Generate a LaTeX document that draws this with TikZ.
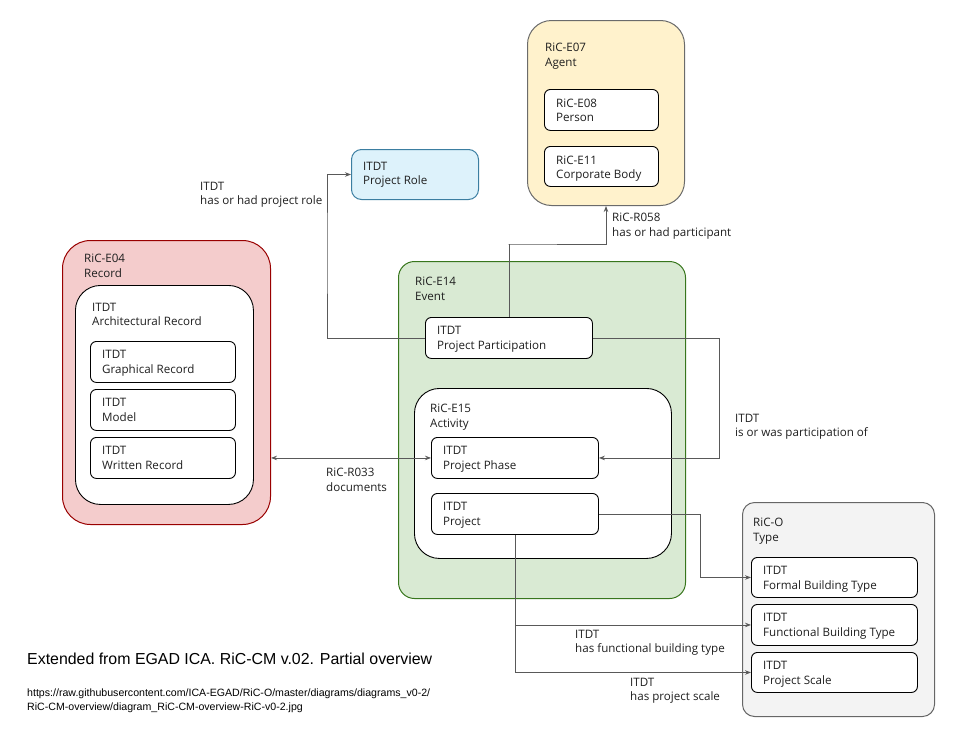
\documentclass[tikz,border=0pt]{standalone}
\usepackage{fontspec}
\setmainfont{Open Sans}
\newfontfamily\arialfont{Liberation Sans}
\usetikzlibrary{arrows.meta}

\definecolor{recfill}{HTML}{F4CCCC}
\definecolor{recline}{HTML}{990000}
\definecolor{agtfill}{HTML}{FFF2CC}
\definecolor{agtline}{HTML}{6B6B6B}
\definecolor{rolefill}{HTML}{DDF2FB}
\definecolor{roleline}{HTML}{3B7EA1}
\definecolor{evtfill}{HTML}{D9EAD3}
\definecolor{evtline}{HTML}{38761D}
\definecolor{typfill}{HTML}{F3F3F3}
\definecolor{typline}{HTML}{666666}
\definecolor{wire}{HTML}{595959}

\begin{document}
\begin{tikzpicture}[x=1pt,y=-1pt,
  every node/.style={font=\fontsize{11.6}{14.5}\selectfont, text=black!88},
  box/.style={draw=black, fill=white, line width=0.9pt, rounded corners=6pt,
    anchor=north west, inner sep=0pt},
  group/.style={anchor=north west, inner sep=0pt, line width=1pt},
  ttl/.style={anchor=north west, inner sep=0pt, align=left},
  lbl/.style={anchor=north west, inner sep=0pt, align=left},
  conn/.style={draw=wire, line width=0.8pt},
  tip/.tip={Stealth[length=6pt,width=4.5pt]},
  arr/.style={conn, -tip},
]
\useasboundingbox (0,0) rectangle (971,731);

% ---- Agent ----
\node[group, draw=agtline, fill=agtfill, rounded corners=24pt,
  minimum width=157pt, minimum height=185pt,
  label={[ttl, xshift=18pt, yshift=-23pt]north west:RiC-E07\\Agent}] (agent) at (527,20) {};
\node[box, minimum width=114pt, minimum height=41pt,
  label={[ttl, xshift=12pt, yshift=-9.5pt]north west:RiC-E08\\Person}] (person) at (544,89) {};
\node[box, minimum width=114pt, minimum height=40pt,
  label={[ttl, xshift=12pt, yshift=-9.5pt]north west:RiC-E11\\Corporate Body}] (corporate) at (544,146) {};

% ---- Project role ----
\node[group, draw=roleline, fill=rolefill, rounded corners=10pt,
  minimum width=127pt, minimum height=50pt,
  label={[ttl, xshift=12pt, yshift=-13pt]north west:ITDT\\Project Role}] (role) at (351,149) {};

% ---- Record ----
\node[group, draw=recline, fill=recfill, rounded corners=28pt,
  minimum width=208pt, minimum height=284pt,
  label={[ttl, xshift=22pt, yshift=-14pt]north west:RiC-E04\\Record}] (record) at (62,240) {};
\node[box, rounded corners=25pt, minimum width=178pt, minimum height=219pt,
  label={[ttl, xshift=17pt, yshift=-18pt]north west:ITDT\\Architectural Record}] (arch) at (75,285) {};
\node[box, minimum width=145pt, minimum height=41pt,
  label={[ttl, xshift=12pt, yshift=-9.5pt]north west:ITDT\\Graphical Record}] (graphical) at (90,341) {};
\node[box, minimum width=145pt, minimum height=41pt,
  label={[ttl, xshift=12pt, yshift=-9.5pt]north west:ITDT\\Model}] (model) at (90,389) {};
\node[box, minimum width=145pt, minimum height=41pt,
  label={[ttl, xshift=12pt, yshift=-9.5pt]north west:ITDT\\Written Record}] (written) at (90,437) {};

% ---- Event ----
\node[group, draw=evtline, fill=evtfill, rounded corners=16pt,
  minimum width=287pt, minimum height=337pt,
  label={[ttl, xshift=17pt, yshift=-16pt]north west:RiC-E14\\Event}] (event) at (398,261) {};
\node[box, minimum width=167pt, minimum height=41pt,
  label={[ttl, xshift=12pt, yshift=-9.5pt]north west:ITDT\\Project Participation}] (pp) at (425,317) {};
\node[box, rounded corners=25pt, minimum width=257pt, minimum height=170pt,
  label={[ttl, xshift=16pt, yshift=-16pt]north west:RiC-E15\\Activity}] (activity) at (414,388) {};
\node[box, minimum width=167pt, minimum height=41pt,
  label={[ttl, xshift=12pt, yshift=-9.5pt]north west:ITDT\\Project Phase}] (phase) at (431,437) {};
\node[box, minimum width=167pt, minimum height=41pt,
  label={[ttl, xshift=12pt, yshift=-9.5pt]north west:ITDT\\Project}] (project) at (431,493) {};

% ---- Type ----
\node[group, draw=typline, fill=typfill, rounded corners=12pt,
  minimum width=192pt, minimum height=214pt,
  label={[ttl, xshift=11pt, yshift=-16pt]north west:RiC-O\\Type}] (type) at (742,502) {};
\node[box, minimum width=166pt, minimum height=40pt,
  label={[ttl, xshift=12pt, yshift=-9.5pt]north west:ITDT\\Formal Building Type}] (formal) at (751,557) {};
\node[box, minimum width=166pt, minimum height=41pt,
  label={[ttl, xshift=12pt, yshift=-9.5pt]north west:ITDT\\Functional Building Type}] (functional) at (751,604) {};
\node[box, minimum width=166pt, minimum height=40pt,
  label={[ttl, xshift=12pt, yshift=-9.5pt]north west:ITDT\\Project Scale}] (scale) at (751,652) {};

% ---- bend points of the connectors ----
\coordinate (roleBend) at (327,250);
\coordinate (agentBend) at (508.5,244);
\coordinate (phaseBend) at (719,400);
\coordinate (formalBend) at (700,540);

% ---- connectors ----
\draw[arr] (pp.west) -| (roleBend) |- (role.west);
\draw[arr] (pp.north) |- (agentBend) -| (agent.south);
\draw[arr] (pp.east) -| (phaseBend) |- (phase.east);
\draw[conn, tip-tip] (record.east |- phase.west) -- (phase.west);
\draw[arr] (project.east) -| (formalBend) |- (formal.west);
\draw[arr] (project.south) |- (scale.west);
\draw[arr] (project.south |- functional.west) -- (functional.west);

% ---- connector labels ----
\node[lbl] (roleLbl) at (200,182) {ITDT\\has or had project role};
\node[lbl] (agentLbl) at (612,213) {RiC-R058\\has or had participant};
\node[lbl] (phaseLbl) at (735,414) {ITDT\\is or was participation of};
\node[lbl] (docLbl) at (326,468) {RiC-R033\\documents};
\node[lbl] (funcLbl) at (575,630) {ITDT\\has functional building type};
\node[lbl] (scaleLbl) at (630,678) {ITDT\\has project scale};

% ---- caption and source ----
\node[lbl, font=\arialfont\fontsize{15.9}{18}\selectfont, text=black] (caption) at (27,653)
  {Extended from EGAD ICA. RiC-CM v.02. Partial overview};
\node[lbl, font=\arialfont\fontsize{10.6}{14}\selectfont, text=black] (source) at (27,689)
  {https://raw.githubusercontent.com/ICA-EGAD/RiC-O/master/diagrams/diagrams\_v0-2/\\RiC-CM-overview/diagram\_RiC-CM-overview-RiC-v0-2.jpg};
\end{tikzpicture}
\end{document}
